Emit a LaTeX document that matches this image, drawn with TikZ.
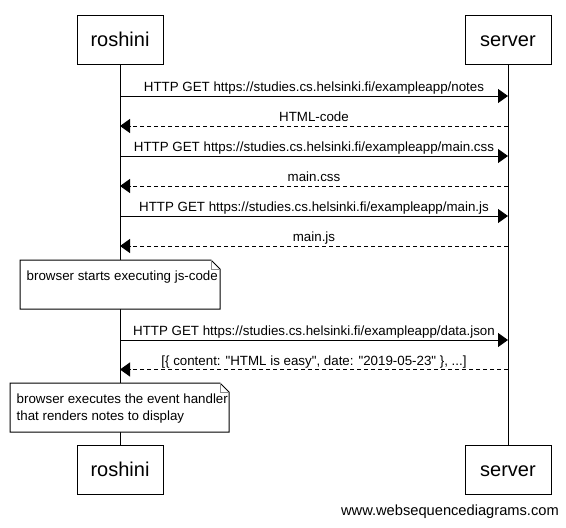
\documentclass[tikz,border=0pt]{standalone}
\usepackage{fontspec}
\setmainfont{Liberation Sans}
\newfontfamily\plainsans{Liberation Sans}
\usetikzlibrary{arrows.meta}
\begin{document}
\begin{tikzpicture}[x=1pt,y=-1pt,
  part/.style={draw=black,line width=1pt,minimum width=86pt,minimum height=49pt,inner sep=0pt,font=\fontsize{20}{24}\selectfont},
  life/.style={draw=black,line width=1pt},
  req/.style={draw=black,line width=1pt,-{Triangle[length=10pt,width=14pt]}},
  resp/.style={draw=black,line width=1pt,dash pattern=on 4pt off 3pt,-{Triangle[length=10pt,width=14pt]}},
  msglabel/.style={anchor=base,inner sep=0pt,font=\plainsans\fontsize{13.33}{16}\selectfont},
  notebox/.style={draw=black,line width=1pt,fill=white},
  notefold/.style={draw=black!45,line width=0.8pt},
  notetext/.style={anchor=base west,inner sep=0pt,font=\fontsize{13.33}{17}\selectfont,align=left}
]
\useasboundingbox (0,0) rectangle (566,528);
\fill[white] (0,0) rectangle (566,528);

% participants
\node[part] (rt) at (120,39.5) {};
\node[anchor=base,inner sep=0pt,font=\fontsize{20}{24}\selectfont] (rtl) at (120,46.7) {roshini};
\node[part] (st) at (508,39.5) {};
\node[anchor=base,inner sep=0pt,font=\fontsize{20}{24}\selectfont] (stl) at (508,46.7) {server};
\node[part] (rb) at (120,469.5) {};
\node[anchor=base,inner sep=0pt,font=\fontsize{20}{24}\selectfont] (rbl) at (120,476.7) {roshini};
\node[part] (sb) at (508,469.5) {};
\node[anchor=base,inner sep=0pt,font=\fontsize{20}{24}\selectfont] (sbl) at (508,476.7) {server};

% lifelines
\draw[life] (rt.south) -- (rb.north);
\draw[life] (st.south) -- (sb.north);

% message anchor points
\foreach \n/\y in {1/96,2/126,3/156,4/186,5/216,6/246,7/340,8/369.5}{
  \coordinate (r\n) at (120,\y);
  \coordinate (s\n) at (508,\y);
}

\draw[req] (r1) -- (s1);
\node[msglabel] (l1) at (314,91.5) {HTTP GET https://studies.cs.helsinki.fi/exampleapp/notes};
\draw[resp] (s2) -- (r2);
\node[msglabel] (l2) at (314,121.5) {HTML-code};
\draw[req] (r3) -- (s3);
\node[msglabel] (l3) at (314,151.5) {HTTP GET https://studies.cs.helsinki.fi/exampleapp/main.css};
\draw[resp] (s4) -- (r4);
\node[msglabel] (l4) at (314,181.5) {main.css};
\draw[req] (r5) -- (s5);
\node[msglabel] (l5) at (314,211.5) {HTTP GET https://studies.cs.helsinki.fi/exampleapp/main.js};
\draw[resp] (s6) -- (r6);
\node[msglabel] (l6) at (314,241.5) {main.js};

% note 1
\draw[notebox] (20,260) -- (211,260) -- (220,269) -- (220,309) -- (20,309) -- cycle;
\draw[notefold] (211,260) -- (211,269) -- (220,269);
\node[notetext] (n1) at (26.5,280.5) {browser starts executing js-code};

\draw[req] (r7) -- (s7);
\node[msglabel] (l7) at (314,335.5) {HTTP GET https://studies.cs.helsinki.fi/exampleapp/data.json};
\draw[resp] (s8) -- (r8);
\node[msglabel] (l8) at (314,365.5) {[\{ content: "HTML is easy", date: "2019-05-23" \}, ...]};

% note 2
\draw[notebox] (10,383) -- (220,383) -- (229,392) -- (229,432) -- (10,432) -- cycle;
\draw[notefold] (220,383) -- (220,392) -- (229,392);
\node[notetext] (n2a) at (16.5,403) {browser executes the event handler};
\node[notetext] (n2b) at (16.5,420) {that renders notes to display};

% footer
\node[anchor=base east,inner sep=0pt,font=\fontsize{14.67}{17}\selectfont] (foot) at (559,515.2) {www.websequencediagrams.com};
\end{tikzpicture}
\end{document}
